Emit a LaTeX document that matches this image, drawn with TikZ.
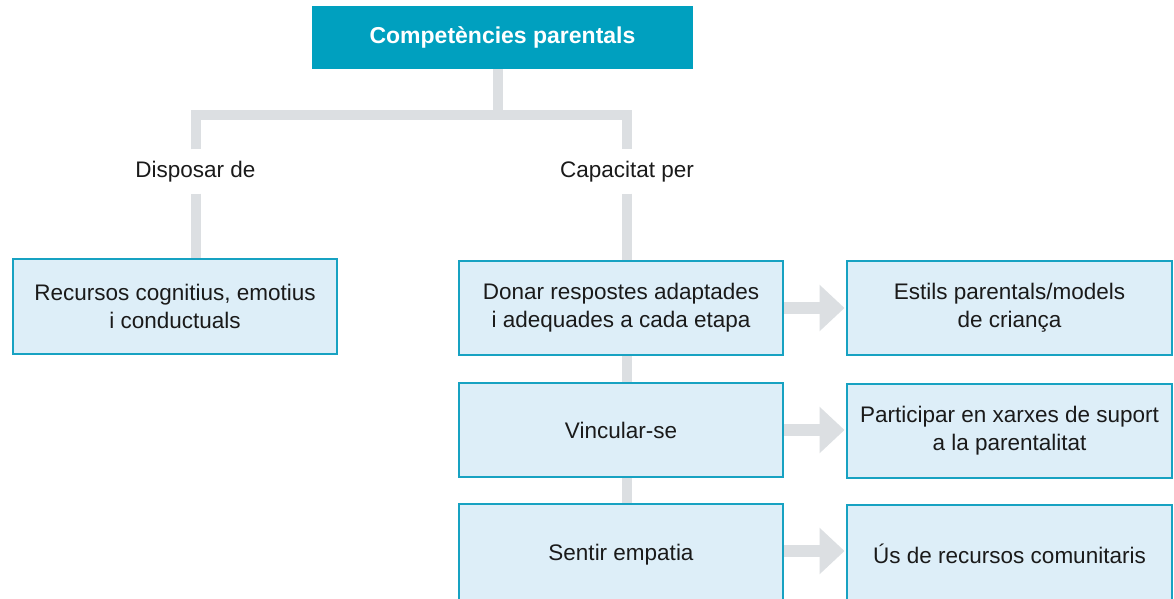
\documentclass[tikz,border=0pt]{standalone}
\usepackage{fontspec}
\setmainfont{Liberation Sans}
\usetikzlibrary{arrows.meta,backgrounds}
\definecolor{cpTeal}{HTML}{00A0BF}
\definecolor{cpBorder}{HTML}{17A2C2}
\definecolor{cpFill}{HTML}{DDEEF8}
\definecolor{cpLine}{HTML}{DCDFE2}
\definecolor{cpText}{HTML}{1A1A1A}
\begin{document}
\begin{tikzpicture}[x=1pt,y=-1pt,
  box/.style={draw=cpBorder, line width=2pt, fill=cpFill, minimum width=324pt, minimum height=94pt,
    inner sep=0pt, align=center, text=cpText, font=\fontsize{22.5}{28}\selectfont},
  lbl/.style={inner sep=0pt, minimum height=44pt, text=cpText, font=\fontsize{22.5}{28}\selectfont},
  conn/.style={draw=cpLine, line width=10pt, line join=miter},
  arr/.style={draw=cpLine, fill=cpLine, line width=12pt, -{Triangle[length=25pt,width=45pt]}, shorten >=1.5pt}]
\useasboundingbox (0,0) rectangle (1174,598);
% nodes
\node[fill=cpTeal, minimum width=381pt, minimum height=63pt, inner sep=0pt, text=white,
  font=\fontsize{23}{28}\selectfont\bfseries] (top) at (502.5,37.5) {Competències parentals};
\node[lbl] (ldisp) at (195.5,171.5) {Disposar de};
\node[lbl] (rcap) at (627,171.5) {Capacitat per};
\node[box, minimum height=95pt] (lbox) at (175,306.5) {Recursos cognitius, emotius\\i conductuals};
\node[box] (m1) at (621,308) {Donar respostes adaptades\\i adequades a cada etapa};
\node[box] (m2) at (621,430) {Vincular-se};
\node[box, minimum height=102pt] (m3) at (621,555) {\raisebox{3pt}{Sentir empatia}};
\node[box, minimum width=325pt] (r1) at (1009.5,308) {Estils parentals/models\\de criança};
\node[box, minimum width=325pt] (r2) at (1009.5,431) {Participar en xarxes de suport\\a la parentalitat};
\node[box, minimum width=325pt, minimum height=102pt] (r3) at (1009.5,556) {\raisebox{4pt}{Ús de recursos comunitaris}};
\coordinate (jt) at (498,114.5);
\begin{scope}[on background layer]
  \fill[white] (0,0) rectangle (1174,598);
  \draw[conn] (top.south -| jt) -- (jt);
  \draw[conn] (ldisp.north) -- (ldisp.north |- jt) -- (rcap.north |- jt) -- (rcap.north);
  \draw[conn] (ldisp.south) -- (ldisp.south |- lbox.north);
  \draw[conn] (rcap.south) -- (rcap.south |- m1.north);
  \draw[conn] (m1.south -| rcap) -- (m2.north -| rcap);
  \draw[conn] (m2.south -| rcap) -- (m3.north -| rcap);
  \draw[arr] (m1.east) -- (r1.west);
  \draw[arr] (m2.east) -- (r2.west |- m2.east);
  \draw[arr] (m3.east |- 0,551) -- (r3.west |- 0,551);
\end{scope}
\end{tikzpicture}
\end{document}
